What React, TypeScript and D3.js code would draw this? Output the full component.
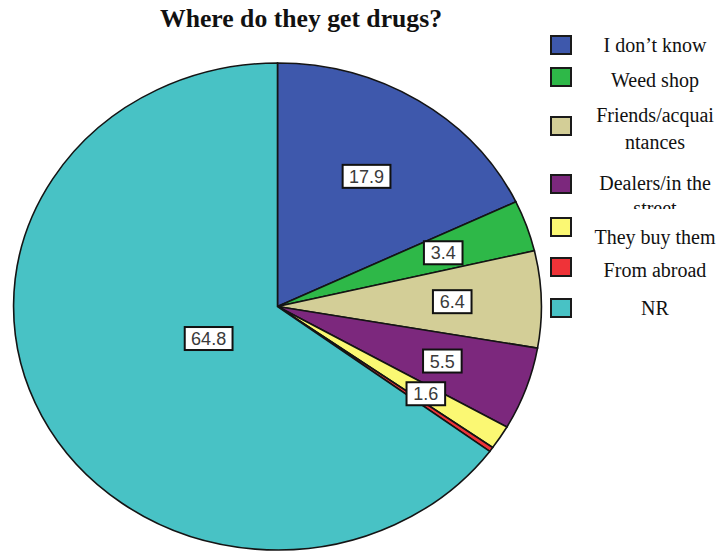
import React from "react";
import * as d3 from "d3";

const categories = ["I don't know", "Weed shop", "Friends/acquaintances", "Dealers/in the street", "They buy them", "From abroad", "NR"];
const values = [17.9, 3.4, 6.4, 5.5, 1.6, 0.3, 64.8];
const colors = ["#3E58AC", "#2EB848", "#D3CE97", "#7C287D", "#FBF873", "#EF3338", "#48C2C5"];
const legendLines = [["I don\u2019t know"], ["Weed shop"], ["Friends/acquai", "ntances"], ["Dealers/in the", "street"], ["They buy them"], ["From abroad"], ["NR"]];
const title = "Where do they get drugs?";

const W = 717, H = 553;
const cx = 277.5, cy = 306.5, rx = 264, ry = 243.5;

export default function App() {
  const pie = d3.pie<number>().sort(null).startAngle(0).endAngle(2 * Math.PI).value((d) => d);
  const arcs = pie(values);
  const arc = d3.arc<d3.PieArcDatum<number>>().innerRadius(0).outerRadius(1);
  const fmt = d3.format(".1f");

  const swatchY = [45, 77, 126, 184, 227, 267, 308];
  const textY = [[45], [80], [115, 142], [183, 208], [237], [270], [308]];
  const serif = "Liberation Serif, Times New Roman, serif";

  return (
    <svg width={W} height={H} style={{ position: "absolute", left: 0, top: 0, background: "#fff" }}>
      <rect x={0} y={0} width={W} height={H} fill="#fff" />
      <text x={301} y={27} textAnchor="middle" fontFamily={serif} fontWeight="bold" fontSize={25} textLength={282} lengthAdjust="spacingAndGlyphs" fill="#111">{title}</text>
      <g transform={`translate(${cx},${cy}) scale(${rx},${ry})`}>
        {arcs.map((a, i) => (
          <path key={i} d={arc(a) || ""} fill={colors[i]} stroke="#141414" strokeWidth={1.6} vectorEffect="non-scaling-stroke" />
        ))}
      </g>
      {arcs.map((a, i) => {
        if (values[i] < 1) return null;
        const half = (a.endAngle - a.startAngle) / 2;
        const mid = (a.startAngle + a.endAngle) / 2;
        const rc = (2 * Math.sin(half)) / (3 * half);
        const x = cx + rx * rc * Math.sin(mid);
        const y = cy - ry * rc * Math.cos(mid);
        const label = fmt(values[i]);
        const tw = label.length * 9.2 + 1;
        const bw = tw + 10;
        return (
          <g key={i}>
            <rect x={x - bw / 2} y={y - 11.5} width={bw} height={23} fill="#fff" stroke="#111" strokeWidth={2} />
            <text x={x} y={y + 6.5} textAnchor="middle" fontFamily="Liberation Sans, Arial, sans-serif" fontSize={18} fill="#3a3a3a">{label}</text>
          </g>
        );
      })}
      {categories.map((c, i) => (
        <g key={c}>
          {i === 4 && <rect x={578} y={209} width={140} height={40} fill="#fff" />}
          <rect x={551} y={swatchY[i] - 9} width={20} height={18} fill={colors[i]} stroke="#1a1a1a" strokeWidth={2} />
          {legendLines[i].map((t, j) => (
            <text key={j} x={655} y={textY[i][j]} dy="0.35em" textAnchor="middle" fontFamily={serif} fontSize={20} fill="#111">{t}</text>
          ))}
        </g>
      ))}
    </svg>
  );
}
